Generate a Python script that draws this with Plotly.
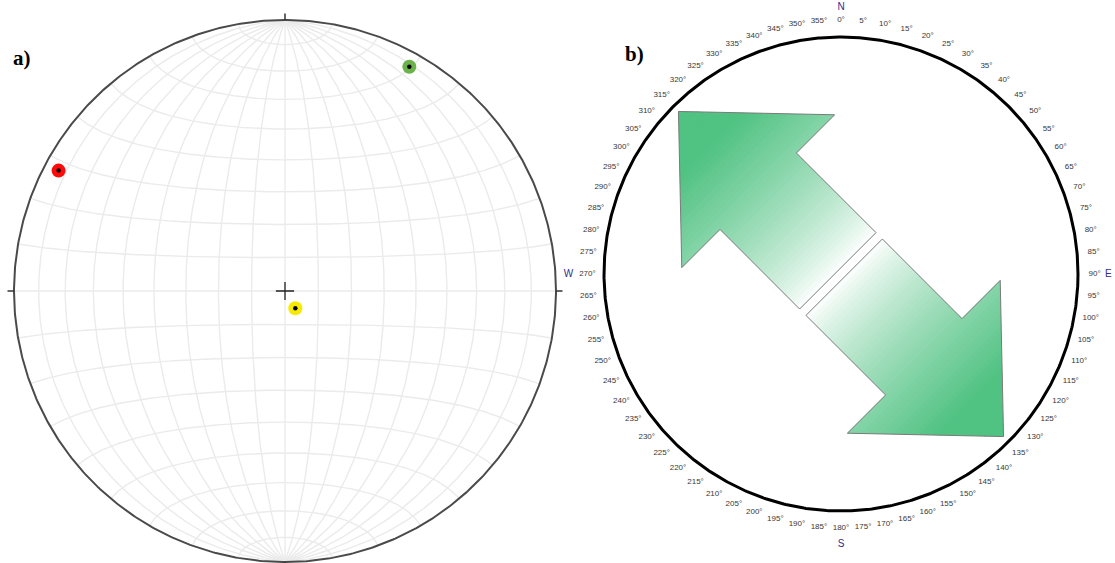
import numpy as np
import plotly.graph_objects as go

# ---------------- data ----------------
# Panel a: principal axes plotted on a lower-hemisphere equal-area net
axis_names = ["axis 1", "axis 2", "axis 3"]
axis_trends = [298, 29, 149]      # degrees
axis_plunges = [6, 6, 84]         # degrees
axis_colors = ["#ff0a0a", "#6cb24a", "#f7ea00"]
net_step = 10                     # grid interval, degrees

# Panel b: horizontal stress direction on a compass
arrow_azimuths = [315, 135]       # degrees
compass_ticks = list(range(0, 360, 5))
cardinal_labels = ["N", "E", "S", "W"]
cardinal_azimuths = [0, 90, 180, 270]

W, H = 1115, 563

# ---------------- helpers ----------------
def schmidt(lam_deg, phi_deg):
    lam = np.radians(lam_deg)
    phi = np.radians(phi_deg)
    c = np.cos(phi) * np.cos(lam)
    k = np.sqrt(2.0 / (1.0 + c))
    x = k * np.cos(phi) * np.sin(lam) / np.sqrt(2)
    y = k * np.sin(phi) / np.sqrt(2)
    return x, y


def line_pts(xs_list, ys_list):
    X, Y = [], []
    for xs, ys in zip(xs_list, ys_list):
        X += list(xs) + [None]
        Y += list(ys) + [None]
    return X, Y


fig = go.Figure()

# ---------------- panel a: stereonet ----------------
gx, gy = [], []
phis = np.linspace(-90, 90, 361)
for lam in range(-90 + net_step, 90, net_step):
    x, y = schmidt(np.full_like(phis, lam), phis)
    gx.append(x); gy.append(y)
lams = np.linspace(-90, 90, 361)
for phi in range(-90 + net_step, 90, net_step):
    x, y = schmidt(lams, np.full_like(lams, phi))
    gx.append(x); gy.append(y)
X, Y = line_pts(gx, gy)
fig.add_trace(go.Scatter(x=X, y=Y, mode="lines", xaxis="x", yaxis="y",
                         line=dict(color="#ebebeb", width=1.4),
                         hoverinfo="skip", showlegend=False, cliponaxis=False))

# primitive circle
t = np.linspace(0, 2 * np.pi, 721)
fig.add_trace(go.Scatter(x=np.cos(t), y=np.sin(t), mode="lines", xaxis="x", yaxis="y",
                         line=dict(color="#4a4a4a", width=2),
                         hoverinfo="skip", showlegend=False, cliponaxis=False))
# N/E/S/W ticks on primitive
tx, ty = [], []
for az in cardinal_azimuths:
    a = np.radians(az)
    tx.append([np.sin(a) * 1.0, np.sin(a) * 1.024])
    ty.append([np.cos(a) * 1.0, np.cos(a) * 1.024])
X, Y = line_pts(tx, ty)
fig.add_trace(go.Scatter(x=X, y=Y, mode="lines", xaxis="x", yaxis="y",
                         line=dict(color="#333333", width=1.5),
                         hoverinfo="skip", showlegend=False, cliponaxis=False))
# centre cross
fig.add_trace(go.Scatter(x=[0], y=[0], mode="markers", xaxis="x", yaxis="y",
                         marker=dict(symbol="cross-thin", size=13,
                                     line=dict(color="#222222", width=1.3)),
                         hoverinfo="skip", showlegend=False, cliponaxis=False))
# poles
tr = np.radians(np.array(axis_trends, dtype=float))
pl = np.array(axis_plunges, dtype=float)
r = np.sqrt(2) * np.sin(np.radians(90 - pl) / 2)
px = r * np.sin(tr)
py = r * np.cos(tr)
fig.add_trace(go.Scatter(x=px, y=py, mode="markers", xaxis="x", yaxis="y",
                         marker=dict(size=14, color=axis_colors, line=dict(width=0)),
                         text=axis_names, showlegend=False, cliponaxis=False))
fig.add_trace(go.Scatter(x=px, y=py, mode="markers", xaxis="x", yaxis="y",
                         marker=dict(size=4.5, color="black"),
                         hoverinfo="skip", showlegend=False, cliponaxis=False))

# ---------------- panel b: compass with arrows ----------------
u0, u_head, u_tip = 0.019, 0.494, 0.97
w_shaft, w_head = 0.228, 0.456
poly_uv = [(u0, w_shaft), (u_head, w_shaft), (u_head, w_head), (u_tip, 0.0),
           (u_head, -w_head), (u_head, -w_shaft), (u0, -w_shaft)]

def clip_u(poly, lo, hi):
    def clip(poly, keep, inter):
        out = []
        n = len(poly)
        for i in range(n):
            p, q = poly[i], poly[(i + 1) % n]
            kp, kq = keep(p), keep(q)
            if kp:
                out.append(p)
            if kp != kq:
                out.append(inter(p, q))
        return out
    def cut(val):
        def f(p, q):
            s = (val - p[0]) / (q[0] - p[0])
            return (val, p[1] + s * (q[1] - p[1]))
        return f
    poly = clip(poly, lambda p: p[0] >= lo, cut(lo))
    if not poly:
        return poly
    poly = clip(poly, lambda p: p[0] <= hi, cut(hi))
    return poly

green = np.array([80, 194, 130])
white = np.array([255, 255, 255])
nb = 48
edges = np.linspace(u0, u_tip, nb + 1)
for az in arrow_azimuths:
    a = np.radians(az)
    ux, uy = np.sin(a), np.cos(a)
    vx, vy = np.cos(a), -np.sin(a)
    for i in range(nb):
        lo, hi = edges[i], min(edges[i + 1] + 0.006, u_tip)
        band = clip_u(poly_uv, lo, hi)
        if len(band) < 3:
            continue
        tt = ((edges[i] + edges[i + 1]) / 2 - u0) / (0.78 - u0)
        tt = min(max(tt, 0.0), 1.0) ** 0.8
        c = (white * (1 - tt) + green * tt).astype(int)
        bx = [p[0] * ux + p[1] * vx for p in band] + [band[0][0] * ux + band[0][1] * vx]
        by = [p[0] * uy + p[1] * vy for p in band] + [band[0][0] * uy + band[0][1] * vy]
        fig.add_trace(go.Scatter(x=bx, y=by, mode="lines", fill="toself",
                                 fillcolor=f"rgb({c[0]},{c[1]},{c[2]})",
                                 line=dict(width=0), xaxis="x2", yaxis="y2",
                                 hoverinfo="skip", showlegend=False, cliponaxis=False))
    ox = [p[0] * ux + p[1] * vx for p in poly_uv] + [poly_uv[0][0] * ux + poly_uv[0][1] * vx]
    oy = [p[0] * uy + p[1] * vy for p in poly_uv] + [poly_uv[0][0] * uy + poly_uv[0][1] * vy]
    fig.add_trace(go.Scatter(x=ox, y=oy, mode="lines", xaxis="x2", yaxis="y2",
                             line=dict(color="#7a7a7a", width=1),
                             hoverinfo="skip", showlegend=False, cliponaxis=False))

# compass circle
fig.add_trace(go.Scatter(x=np.cos(t), y=np.sin(t), mode="lines", xaxis="x2", yaxis="y2",
                         line=dict(color="black", width=3),
                         hoverinfo="skip", showlegend=False, cliponaxis=False))
# degree labels
ta = np.radians(np.array(compass_ticks, dtype=float))
fig.add_trace(go.Scatter(x=1.07 * np.sin(ta), y=1.07 * np.cos(ta), mode="text",
                         text=[f"{d}°" for d in compass_ticks], xaxis="x2", yaxis="y2",
                         textposition="middle center",
                         textfont=dict(family="Liberation Sans, Arial", size=8, color="#383838"),
                         hoverinfo="skip", showlegend=False, cliponaxis=False))
ca = np.radians(np.array(cardinal_azimuths, dtype=float))
card_r = [1.125, 1.128, 1.14, 1.15]
fig.add_trace(go.Scatter(x=[rr * np.sin(a) for rr, a in zip(card_r, ca)],
                         y=[rr * np.cos(a) for rr, a in zip(card_r, ca)], mode="text",
                         text=cardinal_labels, xaxis="x2", yaxis="y2",
                         textposition="middle center",
                         textfont=dict(family="Liberation Sans, Arial", size=10, color="#2e2e8a"),
                         hoverinfo="skip", showlegend=False, cliponaxis=False))

# ---------------- layout ----------------
# panel a: centre (285, 291) px, radius 271 px; domain x [0, 0.52]
sa, cxa, cya = 271.0, 285.0, 291.0
da = [0.0, 0.52]
wa = (da[1] - da[0]) * W
xa_rng = [-(cxa - da[0] * W) / sa, (da[0] * W + wa - cxa) / sa]
ya_rng = [-(H - cya) / sa, cya / sa]
# panel b: centre (841, 274) px, radius 237 px; domain x [0.5, 1]
sb, cxb, cyb = 237.0, 841.0, 274.0
db = [0.5, 1.0]
xb_rng = [-(cxb - db[0] * W) / sb, (db[1] * W - cxb) / sb]
yb_rng = [-(H - cyb) / sb, cyb / sb]

ax_common = dict(visible=False, showgrid=False, zeroline=False, fixedrange=True)
fig.update_layout(
    width=W, height=H,
    margin=dict(l=0, r=0, t=0, b=0),
    paper_bgcolor="white", plot_bgcolor="rgba(0,0,0,0)",
    xaxis=dict(domain=da, range=xa_rng, **ax_common),
    yaxis=dict(domain=[0, 1], range=ya_rng, **ax_common),
    xaxis2=dict(domain=db, range=xb_rng, anchor="y2", **ax_common),
    yaxis2=dict(domain=[0, 1], range=yb_rng, anchor="x2", **ax_common),
    annotations=[
        dict(text="<b>a)</b>", x=22 / W, y=1 - 58 / H, xref="paper", yref="paper",
             xanchor="center", yanchor="middle", showarrow=False,
             font=dict(family="Liberation Serif, Times New Roman", size=21, color="black")),
        dict(text="<b>b)</b>", x=634 / W, y=1 - 54 / H, xref="paper", yref="paper",
             xanchor="center", yanchor="middle", showarrow=False,
             font=dict(family="Liberation Serif, Times New Roman", size=21, color="black")),
    ],
)

fig.write_html("out.html", config={"displayModeBar": False},
               post_script="document.body.style.margin='0';document.body.style.overflow='hidden';")
